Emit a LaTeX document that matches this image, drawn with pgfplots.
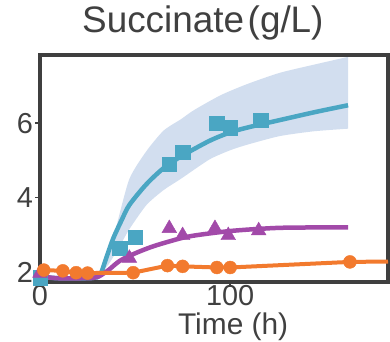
\documentclass[border=0pt]{standalone}
\usepackage{pgfplots}
\pgfplotsset{compat=1.18}
\usepgfplotslibrary{fillbetween}
\usepackage{fontspec}
\setmainfont{Liberation Sans}
\definecolor{tealc}{HTML}{4AA6C3}
\definecolor{bandc}{HTML}{D2DEEF}
\definecolor{purc}{HTML}{A24AA9}
\definecolor{orc}{HTML}{F27A2E}
\definecolor{framec}{HTML}{3F3F3F}
\definecolor{textc}{HTML}{404040}
\begin{document}
\begin{tikzpicture}
\begin{axis}[name=ax,
  scale only axis, width=348bp, height=227bp,
  xmin=0, xmax=183, ymin=1.73, ymax=7.83,
  xtick={0,100}, ytick={2,4,6},
  xtick pos=bottom, ytick pos=left,
  axis line style={draw=none},
  tick style={draw=framec, line width=1.5bp},
  tick align=outside, major tick length=4.5bp,
  ticklabel style={font=\fontsize{29}{30}\selectfont, text=textc},
  /pgf/number format/assume math mode=true,
  yticklabel style={xshift=1bp},
  xticklabel style={yshift=4.5bp},
  title={Succinate\hspace{0.1em}(g/L)},
  title style={font=\fontsize{37}{39}\selectfont, text=textc, at={(rel axis cs:0.468,1)}, anchor=base, yshift=17bp},
  xlabel={Time (h)},
  xlabel style={font=\fontsize{30}{32}\selectfont, text=textc, at={(rel axis cs:0.555,0)}, anchor=base, yshift=-52bp},
  clip=false,
]
\draw[framec, line width=3.6bp] (rel axis cs:0,0) rectangle (rel axis cs:1,1);
% confidence band
\addplot[name path=up, draw=none, smooth, tension=0.4] coordinates {
 (30,1.85) (35,2.3) (40,3.2) (47,4.5) (56,5.25) (65,5.8) (74,6.1) (81,6.35) (95,6.75) (109,7.05) (126,7.35) (144,7.57) (162,7.78)
};
\addplot[name path=lo, draw=none, smooth, tension=0.4] coordinates {
 (30,1.85) (36,2.2) (42,2.7) (47,3.15) (56,3.8) (65,4.2) (74,4.5) (89,5.02) (100,5.27) (109,5.42) (126,5.65) (144,5.78) (162,5.85)
};
\addplot[bandc, draw=none] fill between[of=up and lo];
% blue fit
\addplot[tealc, line width=4.5bp, smooth] coordinates {
 (0,1.93) (3,1.86) (10,1.83) (20,1.83) (28,1.84) (31.6,1.92) (35,2.4) (38.5,2.9) (43,3.4) (47,3.8) (56,4.36) (65,4.79) (74,5.1) (89,5.52) (100,5.75) (109,5.88) (126,6.08) (145,6.3) (162,6.48)
};
\addplot[only marks, mark=square*, mark size=7.2bp, tealc] coordinates {
 (0,1.85) (42,2.64) (50,2.93) (68,4.9) (75,5.22) (93,6.0) (100,5.88) (116,6.07)
};
% purple fit
\addplot[purc, line width=4.5bp, smooth] coordinates {
 (0,1.97) (3,1.87) (10,1.83) (20,1.83) (28,1.84) (31,1.88) (36,2.05) (42,2.3) (50,2.5) (59,2.68) (68,2.82) (76,2.93) (84,3.0) (100,3.1) (116,3.16) (130,3.19) (162,3.2)
};
\addplot[only marks, mark=triangle*, mark size=8.5bp, purc] coordinates {
 (0,1.97) (47,2.37) (68,3.17) (75,2.98) (92,3.17) (99,2.98) (115,3.11)
};
% orange
\addplot[orc, line width=4bp, line join=round] coordinates {
 (2,2.05) (12,2.03) (19,1.98) (25,1.97) (49,1.98) (67,2.17) (75,2.15) (93,2.12) (100,2.12) (163,2.27) (183,2.28)
};
\addplot[only marks, mark=*, mark size=6.5bp, orc] coordinates {
 (2,2.05) (12,2.03) (19,1.98) (25,1.97) (49,1.98) (67,2.17) (75,2.15) (93,2.12) (100,2.12) (163,2.27)
};
\end{axis}
\pgfresetboundingbox
\path ([xshift=-40bp,yshift=-60bp]ax.south west) rectangle ([xshift=2bp,yshift=55bp]ax.north east);
\end{tikzpicture}
\end{document}
